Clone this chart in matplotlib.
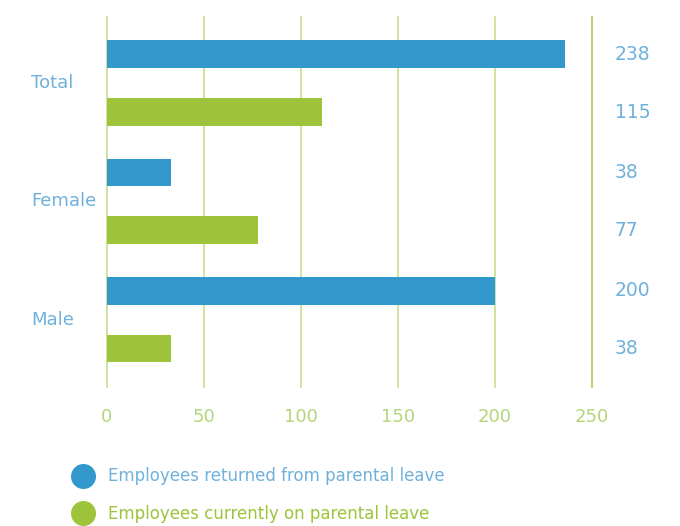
import numpy as np
import matplotlib
matplotlib.use('Agg')
import matplotlib.pyplot as plt
from matplotlib.lines import Line2D

plt.rcParams['font.family'] = ['DejaVu Sans']

# data
categories = ['Total', 'Female', 'Male']
returned = [236, 33, 200]          # bar lengths as drawn
current = [111, 78, 33]
returned_labels = ['238', '38', '200']   # printed values
current_labels = ['115', '77', '38']
ticks = [0, 50, 100, 150, 200, 250]
legend_labels = ['Employees returned from parental leave',
                 'Employees currently on parental leave']

blue = '#3399cc'
green = '#9dc43b'
blue_txt = '#6fb1dc'
green_txt = '#b3d67a'
grid_col = '#c9e296'

fig = plt.figure(figsize=(6.8, 5.26), dpi=100)
ax = fig.add_axes([107 / 680, 1 - 387 / 526, 485 / 680, 370 / 526])

y = np.arange(len(categories)) * 1.0
off = 0.245
h = 0.235
ax.barh(y - off, returned, height=h, color=blue, zorder=3)
ax.barh(y + off, current, height=h, color=green, zorder=3)

for t in ticks:
    ax.axvline(t, color='#b0d262' if t == 250 else grid_col, lw=1.3,
               zorder=1, clip_on=False)

ax.set_xlim(0, 250)
ax.set_ylim(2.57, -0.56)
ax.set_xticks(ticks)
ax.tick_params(axis='x', length=0, pad=15, labelsize=13, labelcolor=green_txt)
ax.set_yticks([])
for s in ax.spines.values():
    s.set_visible(False)

trans = ax.get_yaxis_transform()
for i, c in enumerate(categories):
    ax.text(-0.157, y[i], c, transform=trans, va='center', ha='left',
            fontsize=13, color=blue_txt)

# values on the right
for i in range(len(categories)):
    ax.text(1.047, y[i] - off, returned_labels[i], transform=trans, va='center',
            ha='left', fontsize=13.5, color=blue_txt)
    ax.text(1.047, y[i] + off, current_labels[i], transform=trans, va='center',
            ha='left', fontsize=13.5, color=blue_txt)

handles = [Line2D([], [], marker='o', ls='', ms=17, color=blue),
           Line2D([], [], marker='o', ls='', ms=17, color=green)]
fig.legend(handles, legend_labels, loc='upper left', bbox_to_anchor=(65 / 680, 1 - 459 / 526),
           frameon=False, fontsize=12, labelcolor=[blue_txt, green],
           handletextpad=0.9, labelspacing=1.2, handlelength=1.2, borderpad=0)

fig.savefig('out.png', dpi=100)
